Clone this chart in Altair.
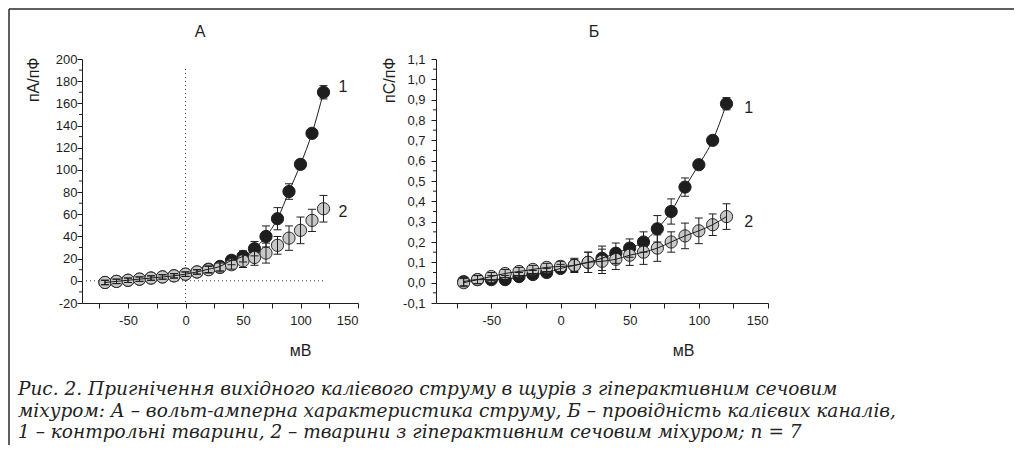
import altair as alt
import pandas as pd

voltage = [-70, -60, -50, -40, -30, -20, -10, 0, 10, 20, 30, 40, 50, 60, 70, 80, 90, 100, 110, 120]

# Panel A: current density, pA/pF
a_ctrl = [-1.5, -0.5, 0.5, 1.5, 2.5, 3.5, 4.5, 6, 8, 10.5, 13, 18.5, 22, 29, 40, 56, 80.5, 105, 133, 170]
a_ctrl_err = [2, 2, 2, 2, 2, 2, 2, 2, 2, 3, 4, 4, 5, 6.5, 9.5, 10, 7, 4, 4, 6]
a_hyp = [-1.5, -0.5, 0.5, 1.5, 2.5, 3.5, 4.5, 6, 8, 10, 12, 14.5, 18, 21, 25, 32, 38.5, 45.5, 54.5, 65]
a_hyp_err = [2, 2, 2, 2, 2, 2, 2, 2, 2, 3, 4, 4, 6, 7, 9, 8, 11, 12, 10, 12]

# Panel B: conductance, pS/pF
b_ctrl = [0.005, 0.015, 0.015, 0.015, 0.03, 0.04, 0.05, 0.07, 0.085, 0.10, 0.12, 0.145, 0.17, 0.20, 0.265, 0.35, 0.47, 0.58, 0.70, 0.88]
b_ctrl_err = [0.02, 0.02, 0.02, 0.02, 0.02, 0.02, 0.02, 0.02, 0.03, 0.05, 0.06, 0.05, 0.045, 0.05, 0.065, 0.062, 0.045, 0.02, 0.02, 0.03]
b_hyp = [0.0, 0.015, 0.03, 0.045, 0.055, 0.065, 0.075, 0.08, 0.085, 0.10, 0.105, 0.115, 0.135, 0.15, 0.17, 0.20, 0.23, 0.255, 0.285, 0.325]
b_hyp_err = [0.02, 0.02, 0.02, 0.02, 0.02, 0.02, 0.02, 0.025, 0.035, 0.05, 0.06, 0.05, 0.05, 0.06, 0.065, 0.05, 0.063, 0.063, 0.053, 0.063]

x_tick_values = [-75, -50, -25, 0, 25, 50, 75, 100, 125, 150]
a_y_major = [-20, 0, 20, 40, 60, 80, 100, 120, 140, 160, 180, 200]
a_y_minor = [-10, 10, 30, 50, 70, 90, 110, 130, 150, 170, 190]
b_y_major = [-0.1, 0.0, 0.1, 0.2, 0.3, 0.4, 0.5, 0.6, 0.7, 0.8, 0.9, 1.0, 1.1]
b_y_minor = [-0.05, 0.05, 0.15, 0.25, 0.35, 0.45, 0.55, 0.65, 0.75, 0.85, 0.95, 1.05]

a_labels = {"x": [137, 137], "y": [175, 62], "t": ["1", "2"]}
b_labels = {"x": [136, 136], "y": [0.86, 0.30], "t": ["1", "2"]}

caption_lines = [
    "Рис. 2. Пригнічення вихідного калієвого струму в щурів з гіперактивним сечовим",
    "міхуром: А – вольт-амперна характеристика струму, Б – провідність калієвих каналів,",
    "1 – контрольні тварини, 2 – тварини з гіперактивним сечовим міхуром; n = 7",
]

INK = "#1e1e1e"
SANS = "Liberation Sans"


def long_df(m1, e1, m2, e2):
    rows = []
    for s, m, e in (("1", m1, e1), ("2", m2, e2)):
        for v, val, err in zip(voltage, m, e):
            rows.append({"mV": v, "val": val, "lo": val - err, "hi": val + err, "s": s})
    return pd.DataFrame(rows)


one = pd.DataFrame({"k": [0]})


def panel(df, ydomain, ymajor, yminor, ytitle, ytitle_x, xtitle_x, label_expr_y, ylabel_pad,
          labels, title_text, title_x, width, line_series, dotted):
    xscale = alt.Scale(domain=[-90, 150], nice=False, zero=False)
    yscale = alt.Scale(domain=ydomain, nice=False, zero=False)
    xaxis = alt.Axis(values=x_tick_values, tickSize=5, labelPadding=6,
                     labelExpr="datum.value % 50 == 0 ? datum.value + '' : ''",
                     title="мВ", titleX=xtitle_x, titleY=47,
                     titleBaseline="middle", titleAlign="center")
    yaxis = alt.Axis(values=ymajor, tickSize=5, labelPadding=ylabel_pad, labelExpr=label_expr_y,
                     title=ytitle, titleX=ytitle_x, titleY=-2, titleAngle=270,
                     titleAlign="right", titleBaseline="middle")

    def X(f):
        return alt.X(f, scale=xscale, axis=xaxis)

    def Y(f):
        return alt.Y(f, scale=yscale, axis=yaxis)

    base = alt.Chart(df)
    layers = []
    if dotted:
        layers.append(alt.Chart(one).mark_rule(color="#333", strokeWidth=1, strokeDash=[1, 3]).encode(
            x=alt.X(datum=-90, scale=xscale, axis=xaxis), x2=alt.datum(120),
            y=alt.Y(datum=0, scale=yscale, axis=yaxis)))
        layers.append(alt.Chart(one).mark_rule(color="#333", strokeWidth=1, strokeDash=[1, 3]).encode(
            x=alt.X(datum=0, scale=xscale, axis=xaxis),
            y=alt.Y(datum=191, scale=yscale, axis=yaxis), y2=alt.datum(-20)))
        # frame lines and figure caption
        layers.append(alt.Chart(one).mark_rule(color="#2a2a2a", strokeWidth=1.5).encode(
            x=alt.value(-73), x2=alt.value(932), y=alt.value(-50)))
        layers.append(alt.Chart(one).mark_rule(color="#2a2a2a", strokeWidth=1.5).encode(
            x=alt.value(-73), y=alt.value(-50), y2=alt.value(386)))
        layers.append(alt.Chart(one).mark_text(
            text=caption_lines, align="left", baseline="alphabetic", lineHeight=21.5,
            font="DejaVu Serif", fontStyle="italic", fontSize=18.5, color="#222"
        ).encode(x=alt.value(-64), y=alt.value(336)))

    # panel letter
    layers.append(alt.Chart(one).mark_text(
        text=title_text, font=SANS, fontSize=16, color=INK, align="center", baseline="middle"
    ).encode(x=alt.value(title_x), y=alt.value(-27)))

    layers.append(base.transform_filter("datum.s == '1'").mark_point(
        shape="circle", filled=True, size=150, fill=INK, stroke=INK, strokeWidth=1, opacity=1
    ).encode(x=X("mV:Q"), y=Y("val:Q")))
    layers.append(base.transform_filter("datum.s == '2'").mark_point(
        shape="circle", filled=True, size=150, fill="#c8c8c8", stroke="#2a2a2a", strokeWidth=1, opacity=1
    ).encode(x=X("mV:Q"), y=Y("val:Q")))
    for s in line_series:
        layers.append(base.transform_filter(f"datum.s == '{s}'").mark_line(
            interpolate="monotone", color=INK, strokeWidth=1
        ).encode(x=X("mV:Q"), y=Y("val:Q")))
    layers.append(base.mark_rule(color=INK, strokeWidth=1).encode(
        x=X("mV:Q"), y=Y("lo:Q"), y2="hi:Q"))
    for f in ("lo", "hi"):
        layers.append(base.mark_tick(orient="horizontal", size=8, thickness=1, color=INK, opacity=1).encode(
            x=X("mV:Q"), y=Y(f"{f}:Q")))
    # minor y ticks
    layers.append(alt.Chart(pd.DataFrame({"t": yminor})).mark_rule(color=INK, strokeWidth=1).encode(
        y=Y("t:Q"), x=alt.value(-3), x2=alt.value(0)))
    # curve labels
    layers.append(alt.Chart(pd.DataFrame(labels)).mark_text(
        font=SANS, fontSize=16, color=INK, align="center", baseline="middle"
    ).encode(x=X("x:Q"), y=Y("y:Q"), text="t:N"))

    return alt.layer(*layers).properties(width=width, height=244)


dfA = long_df(a_ctrl, a_ctrl_err, a_hyp, a_hyp_err)
dfB = long_df(b_ctrl, b_ctrl_err, b_hyp, b_hyp_err)

chartA = panel(dfA, [-20, 200], a_y_major, a_y_minor, "пА/пФ", -49, 218,
               "datum.value + ''", 0, a_labels, "А", 118, 276, ["1"], True)

b_label_expr = "replace(replace(format(datum.value, '.1f'), '.', ','), '\u2212', '-')"
chartB = panel(dfB, [-0.1, 1.1], b_y_major, b_y_minor, "пС/пФ", -47, 247,
               b_label_expr, 6, b_labels, "Б", 158, 332, ["2", "1"], False)

chart = alt.hconcat(chartA, chartB, spacing=78, bounds="flush", padding=0).configure_axis(
    labelFont=SANS, labelFontSize=13, labelColor=INK,
    titleFont=SANS, titleFontSize=16, titleFontWeight="normal", titleColor=INK,
    domainColor=INK, tickColor=INK, grid=False,
).configure_view(stroke=None)

chart.save("out.html", embed_options={"renderer": "svg", "actions": False})
